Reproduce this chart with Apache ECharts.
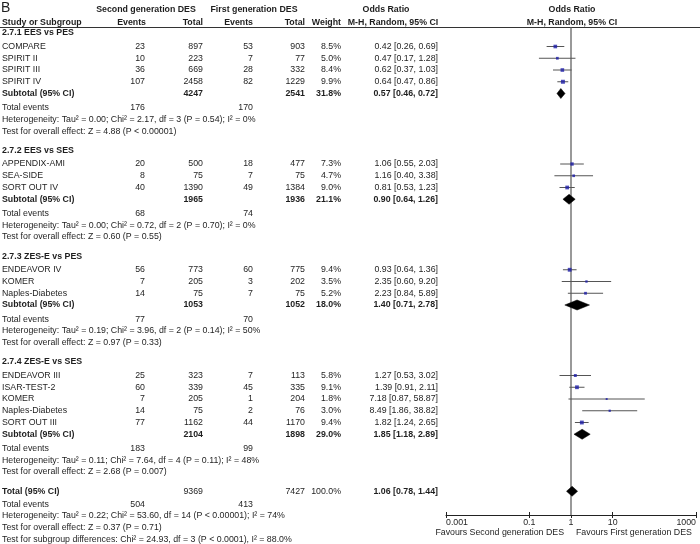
<!DOCTYPE html>
<html><head><meta charset="utf-8">
<script src="https://cdn.jsdelivr.net/npm/echarts@6/dist/echarts.min.js"></script>
<style>html,body{margin:0;padding:0;background:#fff}#c{width:700px;height:544px}</style>
</head><body><div id="c"></div>
<script>
// ---------------- data ----------------
const groupTitles = ['2.7.1 EES vs PES', '2.7.2 EES vs SES', '2.7.3 ZES-E vs PES', '2.7.4 ZES-E vs SES'];
const studyNames = [
  ['COMPARE', 'SPIRIT II', 'SPIRIT III', 'SPIRIT IV'],
  ['APPENDIX-AMI', 'SEA-SIDE', 'SORT OUT IV'],
  ['ENDEAVOR IV', 'KOMER', 'Naples-Diabetes'],
  ['ENDEAVOR III', 'ISAR-TEST-2', 'KOMER', 'Naples-Diabetes', 'SORT OUT III']
];
const eventsSecond = [[23, 10, 36, 107], [20, 8, 40], [56, 7, 14], [25, 60, 7, 14, 77]];
const totalSecond  = [[897, 223, 669, 2458], [500, 75, 1390], [773, 205, 75], [323, 339, 205, 75, 1162]];
const eventsFirst  = [[53, 7, 28, 82], [18, 7, 49], [60, 3, 7], [7, 45, 1, 2, 44]];
const totalFirst   = [[903, 77, 332, 1229], [477, 75, 1384], [775, 202, 75], [113, 335, 204, 76, 1170]];
const weights      = [[8.5, 5.0, 8.4, 9.9], [7.3, 4.7, 9.0], [9.4, 3.5, 5.2], [5.8, 9.1, 1.8, 3.0, 9.4]];
const oddsRatio    = [[0.42, 0.47, 0.62, 0.64], [1.06, 1.16, 0.81], [0.93, 2.35, 2.23], [1.27, 1.39, 7.18, 8.49, 1.82]];
const ciLower      = [[0.26, 0.17, 0.37, 0.47], [0.55, 0.40, 0.53], [0.64, 0.60, 0.84], [0.53, 0.91, 0.87, 1.86, 1.24]];
const ciUpper      = [[0.69, 1.28, 1.03, 0.86], [2.03, 3.38, 1.23], [1.36, 9.20, 5.89], [3.02, 2.11, 58.87, 38.82, 2.65]];

const subTotalSecond = [4247, 1965, 1053, 2104];
const subTotalFirst  = [2541, 1936, 1052, 1898];
const subWeights     = [31.8, 21.1, 18.0, 29.0];
const subOR          = [0.57, 0.90, 1.40, 1.85];
const subLower       = [0.46, 0.64, 0.71, 1.18];
const subUpper       = [0.72, 1.26, 2.78, 2.89];
const subEventsSecond = [176, 68, 77, 183];
const subEventsFirst  = [170, 74, 70, 99];
const subHeterogeneity = [
  'Heterogeneity: Tau\u00b2 = 0.00; Chi\u00b2 = 2.17, df = 3 (P = 0.54); I\u00b2 = 0%',
  'Heterogeneity: Tau\u00b2 = 0.00; Chi\u00b2 = 0.72, df = 2 (P = 0.70); I\u00b2 = 0%',
  'Heterogeneity: Tau\u00b2 = 0.19; Chi\u00b2 = 3.96, df = 2 (P = 0.14); I\u00b2 = 50%',
  'Heterogeneity: Tau\u00b2 = 0.11; Chi\u00b2 = 7.64, df = 4 (P = 0.11); I\u00b2 = 48%'
];
const subOverallTest = [
  'Test for overall effect: Z = 4.88 (P < 0.00001)',
  'Test for overall effect: Z = 0.60 (P = 0.55)',
  'Test for overall effect: Z = 0.97 (P = 0.33)',
  'Test for overall effect: Z = 2.68 (P = 0.007)'
];
const overallTotals = [9369, 7427];
const overallWeight = 100.0;
const overallOR = [1.06, 0.78, 1.44];
const overallEvents = [504, 413];
const overallHeterogeneity = 'Heterogeneity: Tau\u00b2 = 0.22; Chi\u00b2 = 53.60, df = 14 (P < 0.00001); I\u00b2 = 74%';
const overallTest = 'Test for overall effect: Z = 0.37 (P = 0.71)';
const subgroupTest = 'Test for subgroup differences: Chi\u00b2 = 24.93, df = 3 (P < 0.0001), I\u00b2 = 88.0%';
const nullEffect = [1];
const axisTicks = [0.001, 0.1, 1, 10, 1000];
const favoursLabels = ['Favours Second generation DES', 'Favours First generation DES'];

// ---------------- layout ----------------
const FONT = "'Liberation Sans', Arial, sans-serif";
const FS = 8.8;
const TXT = '#1e1e1e';
const U = 11.75, TOP = 27.125, AXIS_Y = 515, H = 544;
const COL = {name: 2, e2: 145, t2: 203, e1: 253, t1: 305, w: 341, or: 438};

const cells = [], forest = [], squares = [];
function cell(x, slot, text, align, bold) { cells.push({x, slot, text: String(text), align, bold: !!bold}); }
const fmtOR = (o, l, h) => o.toFixed(2) + ' [' + l.toFixed(2) + ', ' + h.toFixed(2) + ']';
const fmtW = w => w.toFixed(1) + '%';

let s = 0;
groupTitles.forEach((title, g) => {
  cell(COL.name, s, title, 'left', true);
  s += 1.15;
  studyNames[g].forEach((name, i) => {
    cell(COL.name, s, name, 'left');
    cell(COL.e2, s, eventsSecond[g][i], 'right');
    cell(COL.t2, s, totalSecond[g][i], 'right');
    cell(COL.e1, s, eventsFirst[g][i], 'right');
    cell(COL.t1, s, totalFirst[g][i], 'right');
    cell(COL.w, s, fmtW(weights[g][i]), 'right');
    cell(COL.or, s, fmtOR(oddsRatio[g][i], ciLower[g][i], ciUpper[g][i]), 'right');
    forest.push([ciLower[g][i], ciUpper[g][i], oddsRatio[g][i], s, 0]);
    squares.push([oddsRatio[g][i], s, weights[g][i]]);
    s += 1;
  });
  cell(COL.name, s, 'Subtotal (95% CI)', 'left', true);
  cell(COL.t2, s, subTotalSecond[g], 'right', true);
  cell(COL.t1, s, subTotalFirst[g], 'right', true);
  cell(COL.w, s, fmtW(subWeights[g]), 'right', true);
  cell(COL.or, s, fmtOR(subOR[g], subLower[g], subUpper[g]), 'right', true);
  forest.push([subLower[g], subUpper[g], subOR[g], s, 1]);
  s += 1.2;
  cell(COL.name, s, 'Total events', 'left');
  cell(COL.e2, s, subEventsSecond[g], 'right');
  cell(COL.e1, s, subEventsFirst[g], 'right');
  s += 1;
  cell(COL.name, s, subHeterogeneity[g], 'left');
  s += 1;
  cell(COL.name, s, subOverallTest[g], 'left');
  s += 1.65;
});
cell(COL.name, s, 'Total (95% CI)', 'left', true);
cell(COL.t2, s, overallTotals[0], 'right');
cell(COL.t1, s, overallTotals[1], 'right');
cell(COL.w, s, fmtW(overallWeight), 'right');
cell(COL.or, s, fmtOR(overallOR[0], overallOR[1], overallOR[2]), 'right', true);
forest.push([overallOR[1], overallOR[2], overallOR[0], s, 1]);
s += 1.1;
cell(COL.name, s, 'Total events', 'left');
cell(COL.e2, s, overallEvents[0], 'right');
cell(COL.e1, s, overallEvents[1], 'right');
s += 1;
cell(COL.name, s, overallHeterogeneity, 'left');
s += 1;
cell(COL.name, s, overallTest, 'left');
s += 1;
cell(COL.name, s, subgroupTest, 'left');

const fmtTick = v => String(Number(Number(v).toPrecision(6)));

function headText(x, y, text, align, bold, size) {
  return {type: 'text', x, y, silent: true,
    style: {text, textAlign: align, textVerticalAlign: 'middle', fill: TXT,
      fontFamily: FONT, fontSize: size || FS, fontWeight: bold ? 'bold' : 'normal'}};
}

const chart = echarts.init(document.getElementById('c'));
chart.setOption({
  animation: false,
  backgroundColor: '#fff',
  grid: [
    {left: 0, width: 700, top: TOP, height: H - TOP},
    {left: 446, width: 250, top: TOP, height: AXIS_Y - TOP}
  ],
  xAxis: [
    {gridIndex: 0, type: 'value', min: 0, max: 700, show: false},
    {gridIndex: 1, type: 'log', logBase: 10, min: 0.001, max: 1000, position: 'bottom',
      axisLine: {show: true, onZero: false, lineStyle: {color: '#222', width: 1}},
      axisTick: {show: true, customValues: axisTicks, length: 3, lineStyle: {color: '#222', width: 1}},
      axisLabel: {show: true, customValues: axisTicks, formatter: fmtTick, fontSize: FS, fontFamily: FONT,
        color: TXT, margin: 3, alignMinLabel: 'left', alignMaxLabel: 'right'},
      splitLine: {show: false}, minorTick: {show: false}},
    {gridIndex: 1, type: 'log', logBase: 10, min: 0.001, max: 1000, position: 'bottom', offset: 0,
      axisLine: {show: false, onZero: false},
      axisTick: {show: true, inside: true, customValues: axisTicks, length: 3, lineStyle: {color: '#222', width: 1}},
      axisLabel: {show: false}, splitLine: {show: false}}
  ],
  yAxis: [
    {gridIndex: 0, type: 'value', inverse: true, min: -0.5, max: -0.5 + (H - TOP) / U, show: false},
    {gridIndex: 1, type: 'value', inverse: true, min: -0.5, max: -0.5 + (AXIS_Y - TOP) / U, show: false}
  ],
  graphic: [
    {type: 'line', silent: true, shape: {x1: 0, y1: 27.5, x2: 700, y2: 27.5}, style: {stroke: '#333', lineWidth: 1}},
    headText(1, 8, 'B', 'left', false, 14),
    headText(146, 10, 'Second generation DES', 'center', true),
    headText(254, 10, 'First generation DES', 'center', true),
    headText(386, 10, 'Odds Ratio', 'center', true),
    headText(572, 10, 'Odds Ratio', 'center', true),
    headText(2, 22.5, 'Study or Subgroup', 'left', true),
    headText(146, 22.5, 'Events', 'right', true),
    headText(203, 22.5, 'Total', 'right', true),
    headText(253, 22.5, 'Events', 'right', true),
    headText(305, 22.5, 'Total', 'right', true),
    headText(341, 22.5, 'Weight', 'right', true),
    headText(393, 22.5, 'M-H, Random, 95% CI', 'center', true),
    headText(572, 22.5, 'M-H, Random, 95% CI', 'center', true),
    headText(564, 533, favoursLabels[0], 'right', false),
    headText(576, 533, favoursLabels[1], 'left', false)
  ],
  series: [
    {
      type: 'custom', xAxisIndex: 0, yAxisIndex: 0, silent: true,
      data: cells.map(c => [c.x, c.slot]),
      encode: {x: 0, y: 1},
      renderItem: function (params, api) {
        const c = cells[params.dataIndex];
        const p = api.coord([c.x, c.slot]);
        return {type: 'text', x: p[0], y: p[1],
          style: {text: c.text, textAlign: c.align, textVerticalAlign: 'middle', fill: TXT,
            fontFamily: FONT, fontSize: FS, fontWeight: c.bold ? 'bold' : 'normal'}};
      }
    },
    {
      // line of no effect (OR = 1)
      type: 'custom', xAxisIndex: 1, yAxisIndex: 1, silent: true, z: 1,
      data: nullEffect.map(v => [v, 0]),
      encode: {x: 0, y: 1},
      renderItem: function (params, api) {
        const x = api.coord([api.value(0), 0])[0];
        const cs = params.coordSys;
        return {type: 'line', shape: {x1: x, y1: cs.y + 0.5, x2: x, y2: cs.y + cs.height},
          style: {stroke: '#999', lineWidth: 2}};
      }
    },
    {
      type: 'custom', xAxisIndex: 1, yAxisIndex: 1, silent: true, z: 2,
      data: forest,
      encode: {x: [0, 1, 2], y: 3},
      renderItem: function (params, api) {
        const lo = api.value(0), hi = api.value(1), or = api.value(2), slot = api.value(3), kind = api.value(4);
        const l = api.coord([lo, slot]), r = api.coord([hi, slot]), m = api.coord([or, slot]);
        if (kind === 0) {
          return {type: 'line', shape: {x1: l[0], y1: l[1], x2: r[0], y2: r[1]},
            style: {stroke: '#555', lineWidth: 1}};
        }
        return {type: 'polygon',
          shape: {points: [[l[0], m[1]], [m[0], m[1] - 5], [r[0], m[1]], [m[0], m[1] + 5]]},
          style: {fill: '#000', stroke: '#000', lineWidth: 0.5}};
      }
    },
    {
      type: 'scatter', xAxisIndex: 1, yAxisIndex: 1, silent: true, z: 3,
      data: squares,
      symbol: 'rect',
      symbolSize: v => 1.5 + v[2] * 0.25,
      itemStyle: {color: '#1c1ca6'}
    }
  ]
});
</script></body></html>
